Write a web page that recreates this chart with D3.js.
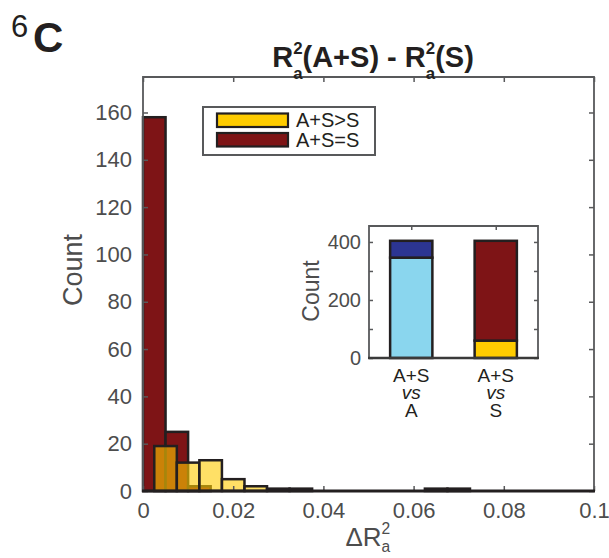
<!DOCTYPE html>
<html><head><meta charset="utf-8">
<script src="https://cdn.jsdelivr.net/npm/d3@7"></script>
<style>
body{margin:0;background:#fff;}
text{font-family:"Liberation Sans",Arial,Helvetica,sans-serif;}
</style></head>
<body><svg id="c" width="609" height="558"></svg>
<script>
// ---- data ----
const xTicks = [0, 0.02, 0.04, 0.06, 0.08, 0.1];
const xTickLabels = ["0", "0.02", "0.04", "0.06", "0.08", "0.1"];
const yTicks = [0, 20, 40, 60, 80, 100, 120, 140, 160];
const binWidth = 0.005;
const redBinStart = 0;          // A+S=S histogram bins start
const redCounts = [158, 25, 2];
const yellowBinStart = 0.0025;  // A+S>S histogram bins start
const yellowCounts = [19, 12, 13, 5, 2, 1, 1, 0, 0, 0, 0, 0, 1, 1];
const legendLabels = ["A+S>S", "A+S=S"];
// inset stacked bars
const insetCats = [["A+S", "vs", "A"], ["A+S", "vs", "S"]];
const insetBottom = [346, 60];
const insetTop = [58, 344];
const insetYTicks = [0, 100, 200, 300, 400];
const insetYLabels = ["0", "", "200", "", "400"];

// ---- colours ----
const RED = "#7e1416", YEL = "#ffcc00", LBLUE = "#8ad6ee", DBLUE = "#2c3592";
const EDGE = "#231f20", AX = "#58595b", TXT = "#4d4d4d";

const svg = d3.select("#c");
svg.append("rect").attr("width", 609).attr("height", 558).attr("fill", "#fff");

// ---- main axes ----
const x = d3.scaleLinear().domain([0, 0.1]).range([143, 594]);
const y = d3.scaleLinear().domain([0, 175]).range([491, 77]);

const redBins = redCounts.map((c, i) => ({x0: redBinStart + i * binWidth, x1: redBinStart + (i + 1) * binWidth, c}));
const yelBins = yellowCounts.map((c, i) => ({x0: yellowBinStart + i * binWidth, x1: yellowBinStart + (i + 1) * binWidth, c})).filter(d => d.c > 0);

svg.append("g").selectAll("rect").data(redBins).join("rect")
  .attr("x", d => x(d.x0)).attr("width", d => x(d.x1) - x(d.x0))
  .attr("y", d => y(d.c)).attr("height", d => y(0) - y(d.c))
  .attr("fill", RED).attr("stroke", EDGE).attr("stroke-width", 2.5);

svg.append("g").selectAll("rect").data(yelBins).join("rect")
  .attr("x", d => x(d.x0)).attr("width", d => x(d.x1) - x(d.x0))
  .attr("y", d => y(d.c)).attr("height", d => y(0) - y(d.c))
  .attr("fill", YEL).attr("fill-opacity", 0.6).attr("stroke", EDGE).attr("stroke-width", 2.5);

function styleAxis(g, size) {
  g.select(".domain").remove();
  g.selectAll(".tick line").attr("stroke", AX).attr("stroke-width", 1.5);
  g.selectAll(".tick text").filter(function () { return this.textContent === ""; }).remove();
  g.selectAll(".tick text").attr("fill", TXT).attr("font-size", size)
    .attr("font-family", '"Liberation Sans",Arial,sans-serif');
}
svg.append("g").attr("transform", "translate(0,491)")
  .call(d3.axisBottom(x).tickValues(xTicks).tickFormat((d, i) => xTickLabels[i]).tickSize(-5).tickPadding(11))
  .call(g => styleAxis(g, 22));
svg.append("g").attr("transform", "translate(0,77)")
  .call(d3.axisTop(x).tickValues(xTicks).tickFormat("").tickSize(-5))
  .call(g => styleAxis(g, 22));
svg.append("g").attr("transform", "translate(143,0)")
  .call(d3.axisLeft(y).tickValues(yTicks).tickSize(-5).tickPadding(11))
  .call(g => styleAxis(g, 22));
svg.append("g").attr("transform", "translate(594,0)")
  .call(d3.axisRight(y).tickValues(yTicks).tickFormat("").tickSize(-5))
  .call(g => styleAxis(g, 22));

// box
svg.append("path").attr("d", `M${x(0)},${y(0)}V${y(175)}H${x(0.1)}V${y(0)}`)
  .attr("fill", "none").attr("stroke", AX).attr("stroke-width", 1.8);
svg.append("line").attr("x1", x(0) - 1).attr("x2", x(0.1) + 1).attr("y1", y(0)).attr("y2", y(0))
  .attr("stroke", EDGE).attr("stroke-width", 2.8);

// y label
svg.append("text").attr("transform", "translate(82,270) rotate(-90)")
  .attr("text-anchor", "middle").attr("font-size", 27).attr("fill", TXT).text("Count");

// rich text with stacked super/subscripts
function richText(parent, xc, yb, size, weight, parts, color) {
  const t = parent.append("text").attr("x", 0).attr("y", yb).attr("font-size", size)
    .attr("font-weight", weight).attr("fill", color);
  let pendingDy = 0;
  parts.forEach(p => {
    if (typeof p === "string") {
      const s = t.append("tspan").text(p);
      if (pendingDy) s.attr("dy", pendingDy);
      pendingDy = 0;
    } else {
      const ss = size * p.scale;
      const w = ss * 0.556;
      t.append("tspan").attr("font-size", ss).attr("dy", -p.up + pendingDy).text(p.sup);
      t.append("tspan").attr("font-size", ss).attr("dx", -w).attr("dy", p.up + p.down).text(p.sub);
      pendingDy = -p.down;
    }
  });
  const bb = t.node().getBBox();
  t.attr("x", xc - bb.width / 2);
  return t;
}
richText(svg, 373, 67, 29, "bold",
  ["R", {sup: "2", sub: "a", scale: 0.58, up: 13, down: 12}, "(A+S) - R", {sup: "2", sub: "a", scale: 0.58, up: 13, down: 12}, "(S)"], EDGE);

// x label
richText(svg, 368, 546, 26, "normal",
  ["\u0394R", {sup: "2", sub: "a", scale: 0.6, up: 12, down: 6}], TXT);

// panel label
svg.append("text").attr("x", 11).attr("y", 37).attr("font-size", 31).attr("fill", EDGE).text("6");
svg.append("text").attr("x", 33).attr("y", 52).attr("font-size", 42).attr("font-weight", "bold").attr("fill", EDGE).text("C");

// legend
const lg = svg.append("g");
lg.append("rect").attr("x", 203).attr("y", 107).attr("width", 172).attr("height", 48)
  .attr("fill", "#fff").attr("stroke", AX).attr("stroke-width", 2);
const legColors = [YEL, RED];
legendLabels.forEach((lab, i) => {
  lg.append("rect").attr("x", 217).attr("y", 113.5 + i * 19.5).attr("width", 71).attr("height", 13.5)
    .attr("fill", legColors[i]).attr("stroke", EDGE).attr("stroke-width", 2.2);
  lg.append("text").attr("x", 296).attr("y", 127 + i * 19.5).attr("font-size", 20).attr("fill", EDGE).text(lab);
});

// ---- inset ----
const xi = d3.scaleLinear().domain([0.5, 2.5]).range([369, 538]);
const yi = d3.scaleLinear().domain([0, 455]).range([358, 226]);
const ins = svg.append("g");
ins.append("rect").attr("x", 369).attr("y", 226).attr("width", 169).attr("height", 132).attr("fill", "#fff");
const bw = 0.5;
const insetData = insetBottom.map((b, i) => ({i: i + 1, b, t: insetTop[i]}));
const botColors = [LBLUE, YEL], topColors = [DBLUE, RED];
ins.selectAll("rect.bot").data(insetData).join("rect").attr("class", "bot")
  .attr("x", d => xi(d.i - bw / 2)).attr("width", d => xi(d.i + bw / 2) - xi(d.i - bw / 2))
  .attr("y", d => yi(d.b)).attr("height", d => yi(0) - yi(d.b))
  .attr("fill", (d, k) => botColors[k]).attr("stroke", EDGE).attr("stroke-width", 2.5);
ins.selectAll("rect.top").data(insetData).join("rect").attr("class", "top")
  .attr("x", d => xi(d.i - bw / 2)).attr("width", d => xi(d.i + bw / 2) - xi(d.i - bw / 2))
  .attr("y", d => yi(d.b + d.t)).attr("height", d => yi(d.b) - yi(d.b + d.t))
  .attr("fill", (d, k) => topColors[k]).attr("stroke", EDGE).attr("stroke-width", 2.5);

ins.append("g").attr("transform", "translate(369,0)")
  .call(d3.axisLeft(yi).tickValues(insetYTicks).tickFormat((d, i) => insetYLabels[i]).tickSize(-4).tickPadding(8))
  .call(g => styleAxis(g, 20));
ins.append("g").attr("transform", "translate(538,0)")
  .call(d3.axisRight(yi).tickValues(insetYTicks).tickFormat("").tickSize(-4))
  .call(g => styleAxis(g, 20));
ins.append("g").attr("transform", "translate(0,226)")
  .call(d3.axisTop(xi).tickValues([1, 2]).tickFormat("").tickSize(-4))
  .call(g => styleAxis(g, 20));
ins.append("path").attr("d", `M369,358V226H538V358`).attr("fill", "none").attr("stroke", AX).attr("stroke-width", 1.8);
ins.append("line").attr("x1", 368).attr("x2", 539).attr("y1", 358).attr("y2", 358).attr("stroke", "#3a3a3a").attr("stroke-width", 2.4);

ins.append("text").attr("transform", "translate(319,291) rotate(-90)")
  .attr("text-anchor", "middle").attr("font-size", 23).attr("fill", TXT).text("Count");

insetCats.forEach((lines, k) => {
  const t = ins.append("text").attr("text-anchor", "middle").attr("fill", EDGE).attr("font-size", 19);
  const ys = [382, 398.5, 417];
  lines.forEach((ln, j) => {
    t.append("tspan").attr("x", xi(k + 1)).attr("y", ys[j])
      .attr("font-style", j === 1 ? "italic" : "normal").text(ln);
  });
});
</script></body></html>
